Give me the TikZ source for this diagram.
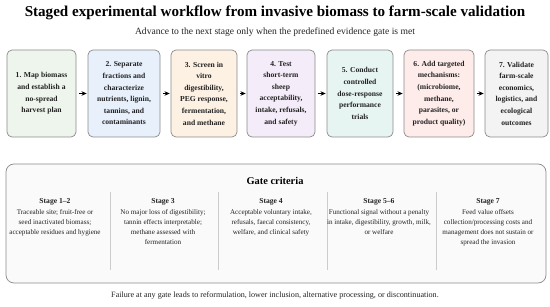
\documentclass[tikz,border=0pt]{standalone}
\usepackage{fontspec}
\setmainfont{Liberation Serif}
\usepackage{tikz}
\usetikzlibrary{arrows.meta}

\definecolor{fillA}{HTML}{EEF5EC}
\definecolor{fillB}{HTML}{E8F1FB}
\definecolor{fillC}{HTML}{FDF1E4}
\definecolor{fillD}{HTML}{F4ECF8}
\definecolor{fillE}{HTML}{E7F5F2}
\definecolor{fillF}{HTML}{FDECEA}
\definecolor{fillG}{HTML}{F3F3F3}
\definecolor{edgegray}{HTML}{8A8A8A}
\definecolor{panelfill}{HTML}{FAFAFA}
\definecolor{divgray}{HTML}{CCCCCC}
\definecolor{inkgray}{HTML}{222222}

\begin{document}
\begin{tikzpicture}[x=1pt, y=-1pt, >={Stealth[length=1.8mm, width=1.6mm]}, line width=0.7pt,
  stagebox/.style={draw=edgegray, rounded corners=5pt, inner sep=0pt, minimum height=87, align=center,
    text=inkgray, font=\fontsize{7.6}{11.6}\selectfont\bfseries},
  gatebox/.style={draw=edgegray, fill=panelfill, rounded corners=8pt, minimum width=540, minimum height=119},
  colhead/.style={font=\fontsize{7.6}{8}\selectfont\bfseries, text=inkgray},
  colbody/.style={anchor=north, align=center, inner sep=0pt, text=inkgray, font=\fontsize{7.1}{10}\selectfont},
  divline/.style={draw=divgray, line width=0.6pt}]
  \useasboundingbox (0,0) rectangle (550,307);

  % titulo
  \node[font=\fontsize{15.1}{17}\selectfont\bfseries] (title) at (275,13)
    {Staged experimental workflow from invasive biomass to farm-scale validation};
  \node[font=\fontsize{9.6}{10}\selectfont, text=inkgray] (subtitle) at (275,32)
    {Advance to the next stage only when the predefined evidence gate is met};

  % etapas
  \node[stagebox, fill=fillA, minimum width=69] (s1) at (41.5,93.5)
    {1. Map biomass\\and establish a\\no-spread\\harvest plan};
  \node[stagebox, fill=fillB, minimum width=72] (s2) at (124,93.5)
    {2. Separate\\fractions and\\characterize\\nutrients, lignin,\\tannins, and\\contaminants};
  \node[stagebox, fill=fillC, minimum width=66] (s3) at (204,93.5)
    {3. Screen in\\vitro\\digestibility,\\PEG response,\\fermentation,\\and methane};
  \node[stagebox, fill=fillD, minimum width=68] (s4) at (281,93.5)
    {4. Test\\short-term\\sheep\\acceptability,\\intake, refusals,\\and safety};
  \node[stagebox, fill=fillE, minimum width=66] (s5) at (360,93.5)
    {5. Conduct\\controlled\\dose-response\\performance\\trials};
  \node[stagebox, fill=fillF, minimum width=70] (s6) at (439,93.5)
    {6. Add targeted\\mechanisms:\\(microbiome,\\methane,\\parasites, or\\product quality)};
  \node[stagebox, fill=fillG, minimum width=63] (s7) at (516.5,93.5)
    {7. Validate\\farm-scale\\economics,\\logistics, and\\ecological\\outcomes};

  \foreach \a/\b in {s1/s2, s2/s3, s3/s4, s4/s5, s5/s6, s6/s7}
    \draw[->, shorten <=2.5pt, shorten >=1pt] (\a) -- (\b);

  % criterios
  \node[gatebox] (gate) at (276,223.5) {};
  \node[font=\fontsize{10.4}{11}\selectfont\bfseries] (gatetitle) at (275,181) {Gate criteria};

  \draw[divline] (110,192) -- (110,270);
  \draw[divline] (218,192) -- (218,270);
  \draw[divline] (327,192) -- (327,270);
  \draw[divline] (436,192) -- (436,270);

  \node[colhead] (h1) at (55,202) {Stage 1--2};
  \node[colbody] (b1) at (55,209)
    {Traceable site; fruit-free or\\seed inactivated biomass;\\acceptable residues and hygiene};
  \node[colhead] (h2) at (163,202) {Stage 3};
  \node[colbody] (b2) at (163,209)
    {No major loss of digestibility;\\tannin effects interpretable;\\methane assessed with\\fermentation};
  \node[colhead] (h3) at (271,202) {Stage 4};
  \node[colbody] (b3) at (271,209)
    {Acceptable voluntary intake,\\refusals, faecal consistency,\\welfare, and clinical safety};
  \node[colhead] (h4) at (379,202) {Stage 5--6};
  \node[colbody] (b4) at (379,209)
    {Functional signal without a penalty\\in intake, digestibility, growth, milk,\\or welfare};
  \node[colhead] (h5) at (488,202) {Stage 7};
  \node[colbody] (b5) at (488,209)
    {Feed value offsets\\collection/processing costs and\\management does not sustain or\\spread the invasion};

  % pie
  \node[font=\fontsize{8.1}{9}\selectfont, text=inkgray] (footer) at (275,296)
    {Failure at any gate leads to reformulation, lower inclusion, alternative processing, or discontinuation.};
\end{tikzpicture}
\end{document}
